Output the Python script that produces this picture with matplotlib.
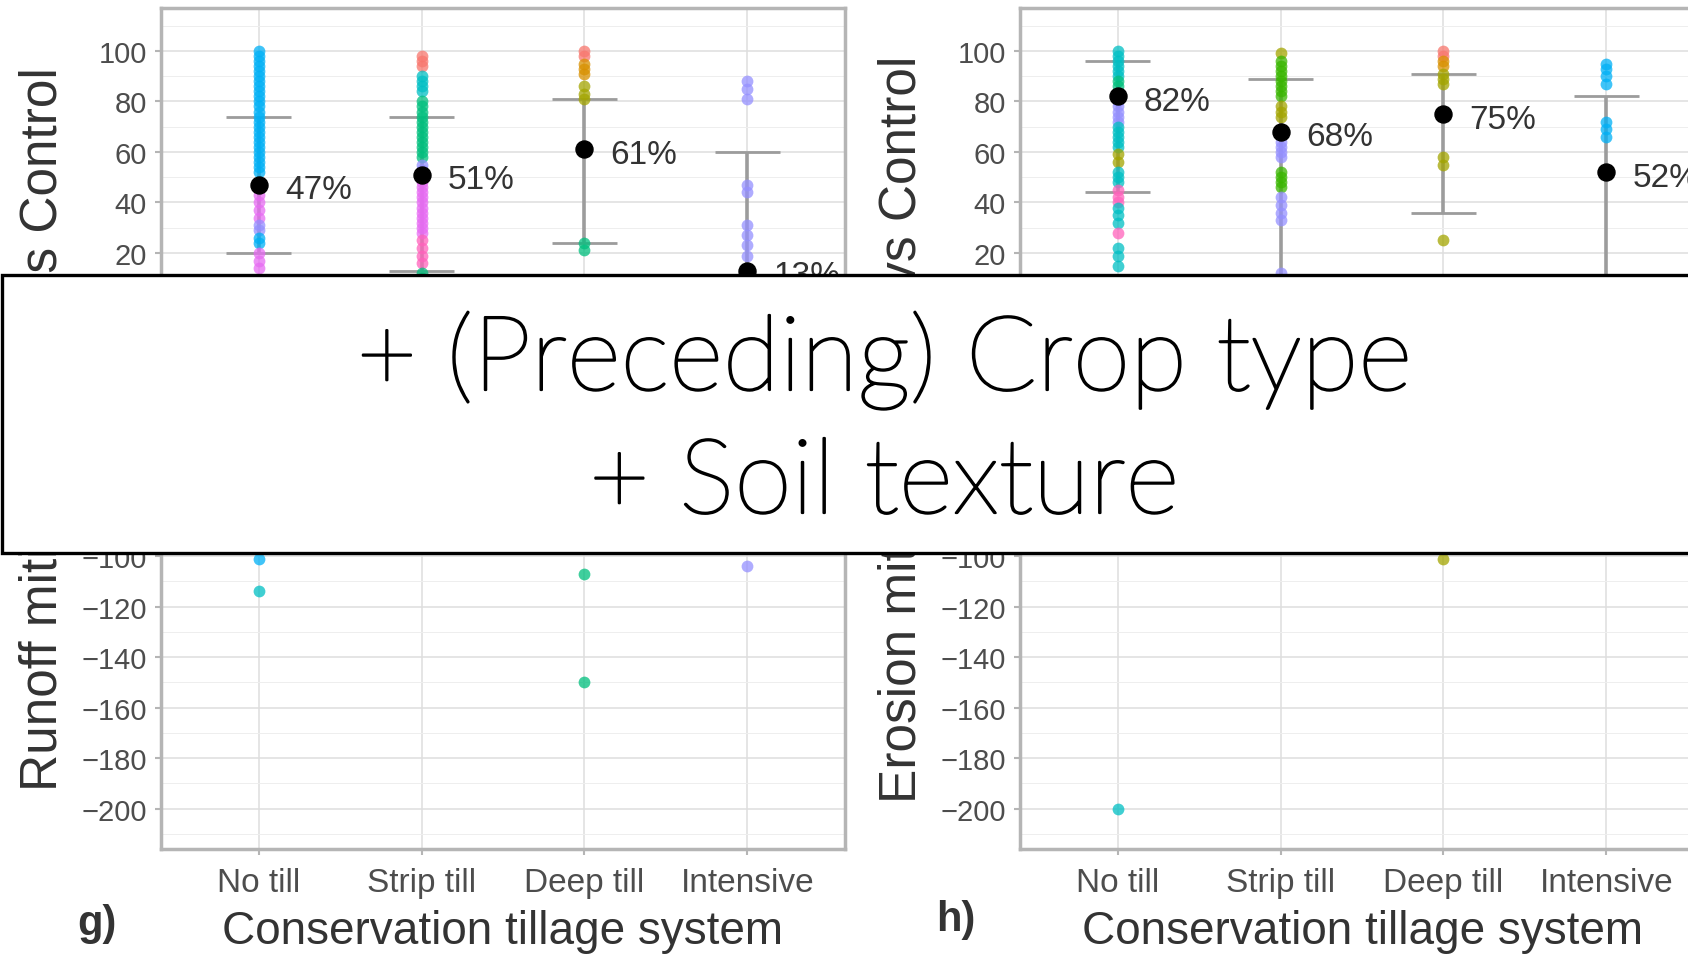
import matplotlib
matplotlib.use("Agg")
import matplotlib.pyplot as plt
import matplotlib.patheffects as pe
from matplotlib.patches import Rectangle
from matplotlib.ticker import MultipleLocator

plt.rcParams["font.family"] = ["Liberation Sans", "DejaVu Sans"]

tillage = ["No till", "Strip till", "Deep till", "Intensive"]

# ggplot-style hue palette, one colour per (preceding) crop
crop_colors = {
    "Barley": "#F8766D",
    "Beans": "#D89000",
    "Cereals": "#A3A500",
    "Grass": "#39B600",
    "Legumes": "#00BF7D",
    "Maize": "#00BFC4",
    "Potato": "#00B0F6",
    "Rapeseed": "#9590FF",
    "Soybean": "#E76BF3",
    "Wheat": "#FF62BC",
}

# runoff mitigation per study, grouped by tillage system as (crop, values)
runoff_points = {
    "No till": [
        ("Potato", [100, 98, 96, 94, 92, 90, 88, 86, 84, 82, 80, 78, 76, 74,
                    72, 70, 68, 66, 64, 62, 60, 58, 56, 54, 52]),
        ("Soybean", [43, 40, 37, 34]),
        ("Rapeseed", [31, 29]),
        ("Potato", [26, 24]),
        ("Soybean", [20, 17, 14]),
        ("Maize", [8, 2, -6]),
        ("Potato", [-18, -101]),
        ("Maize", [-114]),
    ],
    "Strip till": [
        ("Barley", [98, 96, 94]),
        ("Maize", [90, 88, 86, 84]),
        ("Legumes", [80, 78, 76, 74, 72, 70, 68, 66, 64, 62, 60, 58]),
        ("Rapeseed", [55, 53]),
        ("Soybean", [48, 46, 44, 42, 40, 38, 36, 34, 32, 30, 28]),
        ("Wheat", [25, 22, 19, 16]),
        ("Legumes", [12, 10]),
    ],
    "Deep till": [
        ("Barley", [100, 98]),
        ("Beans", [95, 93, 91]),
        ("Cereals", [86, 83, 81]),
        ("Legumes", [24, 21, -107, -150]),
    ],
    "Intensive": [
        ("Rapeseed", [88, 85, 81, 47, 44, 31, 27, 23, 19, -104]),
    ],
}
runoff_mean = [47, 51, 61, 13]
runoff_ci_low = [20, 13, 24, -15]
runoff_ci_high = [74, 74, 81, 60]

# erosion mitigation per study
erosion_points = {
    "No till": [
        ("Maize", [100, 98, 96, 94, 92, 90]),
        ("Legumes", [88, 86]),
        ("Rapeseed", [80, 78, 76, 74, 72]),
        ("Maize", [70, 68, 66, 64, 62]),
        ("Cereals", [59, 56]),
        ("Maize", [52, 50, 48]),
        ("Wheat", [45, 42, 40]),
        ("Maize", [38, 35, 32]),
        ("Wheat", [28]),
        ("Maize", [22, 19, 15, 6, -200]),
    ],
    "Strip till": [
        ("Cereals", [99]),
        ("Grass", [96, 94, 92, 90, 88, 86, 84, 82]),
        ("Cereals", [78, 76, 74]),
        ("Rapeseed", [64, 62, 60, 58]),
        ("Grass", [52, 50, 48, 46]),
        ("Rapeseed", [42, 39, 36, 33, 12]),
    ],
    "Deep till": [
        ("Barley", [100, 98]),
        ("Beans", [96, 94]),
        ("Cereals", [91, 89, 87, 58, 55, 25, -101]),
    ],
    "Intensive": [
        ("Potato", [95, 93, 90, 87, 72, 69, 66]),
    ],
}
erosion_mean = [82, 68, 75, 52]
erosion_ci_low = [44, 5, 36, 8]
erosion_ci_high = [96, 89, 91, 82]

W, H = 1688, 962
fig = plt.figure(figsize=(W / 100, H / 100), dpi=100)


def px_axes(left, top, right, bottom):
    return fig.add_axes([left / W, 1 - bottom / H, (right - left) / W, (bottom - top) / H])


def draw_panel(ax, points, means, lo, hi, ylabel):
    ax.set_xlim(0.4, 4.6)
    ax.set_ylim(-216, 117)
    ax.yaxis.set_major_locator(MultipleLocator(20))
    ax.yaxis.set_minor_locator(MultipleLocator(10))
    ax.set_xticks(range(1, len(tillage) + 1))
    ax.set_xticklabels(tillage)
    ax.grid(which="major", color="#dedede", lw=1.1, zorder=0)
    ax.grid(which="minor", axis="y", color="#eeeeee", lw=0.7, zorder=0)
    ax.set_axisbelow(True)
    for s in ax.spines.values():
        s.set_color("#b5b5b5")
        s.set_linewidth(2.5)
    ax.tick_params(which="major", labelsize=21, labelcolor="#4d4d4d",
                   color="#b5b5b5", length=4, width=1.5, pad=6)
    ax.tick_params(axis="x", which="major", labelsize=24, pad=9)
    ax.tick_params(which="minor", length=0)

    for i, name in enumerate(tillage):
        x = i + 1
        ax.vlines(x, lo[i], hi[i], color="#9c9c9c", lw=2.6, zorder=2)
        ax.hlines([lo[i], hi[i]], x - 0.2, x + 0.2, color="#9c9c9c", lw=2.0, zorder=2)
        for crop, vals in points[name]:
            ax.scatter([x] * len(vals), vals, s=72, color=crop_colors[crop],
                       alpha=0.75, linewidths=0, zorder=3)
        ax.scatter([x], [means[i]], s=150, color="black", zorder=4)
        ax.text(x + 0.16, means[i] - 2, f"{means[i]}%", fontsize=24,
                color="#333333", ha="left", va="center", zorder=5)

    ax.set_ylabel(ylabel, fontsize=37, color="#333333", va="center")
    ax.yaxis.set_label_coords(-0.1725, 0.5)
    ax.set_xlabel("Conservation tillage system", fontsize=33, color="#333333", va="center")
    ax.xaxis.set_label_coords(0.5, -0.097)


ax_runoff = px_axes(161, 9, 845, 850)
draw_panel(ax_runoff, runoff_points, runoff_mean, runoff_ci_low, runoff_ci_high,
           "Runoff mitigation (%) vs Control")

ax_erosion = px_axes(1020, 9, 1704, 850)
draw_panel(ax_erosion, erosion_points, erosion_mean, erosion_ci_low, erosion_ci_high,
           "Erosion mitigation (%) vs Control")

fig.text(97 / W, 1 - 924 / H, "g)", fontsize=30, fontweight="bold",
         color="#333333", ha="center", va="center")
fig.text(956 / W, 1 - 920 / H, "h)", fontsize=30, fontweight="bold",
         color="#333333", ha="center", va="center")

# caption box across the middle of both panels
box = Rectangle((2 / W, 1 - 554 / H), 1.1, (554 - 276) / H, transform=fig.transFigure,
                facecolor="white", edgecolor="black", lw=2.4, zorder=20)
fig.add_artist(box)
caption_style = dict(fontsize=75, family=["Lato", "DejaVu Sans"], fontweight="light",
                     ha="center", va="baseline", zorder=21,
                     path_effects=[pe.withStroke(linewidth=1.6, foreground="black")])
fig.text(884 / W, 1 - 391 / H, "+ (Preceding) Crop type", **caption_style)
fig.text(884 / W, 1 - 514 / H, "+ Soil texture", **caption_style)

fig.savefig("out.png", dpi=100)
